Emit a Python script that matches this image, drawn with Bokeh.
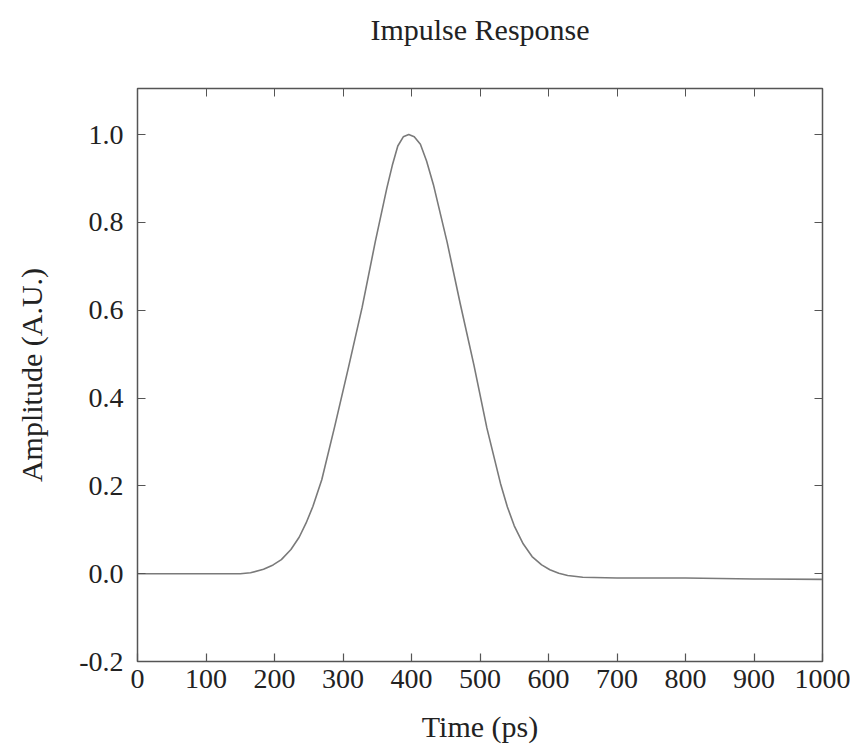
from bokeh.plotting import figure
from bokeh.models import LinearAxis, FixedTicker, NumeralTickFormatter, CustomJSTickFormatter, Range1d
from bokeh.embed import file_html
from bokeh.resources import INLINE

# Data
time_ps = [0, 50, 100, 150, 165, 184, 198, 210, 224, 236, 246, 256, 269, 288, 308, 328, 347, 364,
           372, 380, 388, 396, 404, 413, 422, 432, 452, 471, 491, 510, 530, 540, 550, 563, 576,
           590, 602, 615, 628, 650, 700, 800, 900, 1000]
amplitude = [0.0, 0.0, 0.0, 0.0, 0.002, 0.01, 0.02, 0.032, 0.055, 0.083, 0.115, 0.153, 0.214, 0.336,
             0.47, 0.607, 0.755, 0.878, 0.93, 0.974, 0.995, 1.0, 0.995, 0.978, 0.94, 0.886,
             0.755, 0.616, 0.476, 0.332, 0.205, 0.152, 0.109, 0.068, 0.039, 0.02, 0.009, 0.001,
             -0.004, -0.008, -0.01, -0.01, -0.012, -0.013]
x_ticks = [0, 100, 200, 300, 400, 500, 600, 700, 800, 900, 1000]
y_ticks = [-0.2, 0.0, 0.2, 0.4, 0.6, 0.8, 1.0]
title_text = "Impulse Response"

FONT = "Liberation Serif"
TXT = "#222222"
AX = "#555555"

p = figure(width=850, height=745, output_backend="svg", toolbar_location=None,
           x_range=Range1d(0, 1000), y_range=Range1d(-0.2, 1.105),
           x_axis_label="Time (ps)", y_axis_label="Amplitude (A.U.)",
           min_border_left=137, min_border_right=28, min_border_top=88, min_border_bottom=83)

p.grid.visible = False
p.outline_line_color = AX
p.outline_line_width = 1.5
p.background_fill_color = "white"
p.border_fill_color = "white"

for ax in p.xaxis + p.yaxis:
    ax.axis_label_text_font = FONT
    ax.axis_label_text_font_size = "30px"
    ax.axis_label_text_font_style = "normal"
    ax.axis_label_text_color = TXT
    ax.major_label_text_font = FONT
    ax.major_label_text_font_size = "28px"
    ax.major_label_text_color = TXT
    ax.major_tick_in = 8
    ax.major_tick_out = 0
    ax.minor_tick_in = 0
    ax.minor_tick_out = 0
    ax.axis_line_color = AX
    ax.major_tick_line_color = AX
    ax.major_tick_line_width = 1.2

p.xaxis.ticker = FixedTicker(ticks=x_ticks)
p.yaxis.ticker = FixedTicker(ticks=y_ticks)
p.yaxis.formatter = NumeralTickFormatter(format="0.0")
p.xaxis.major_label_standoff = 8
p.xaxis.axis_label_standoff = 19
p.yaxis.major_label_standoff = 14
p.yaxis.axis_label_standoff = 28

blank = CustomJSTickFormatter(code="return '';")
top = LinearAxis(ticker=FixedTicker(ticks=x_ticks), formatter=blank, major_tick_in=8,
                 major_tick_out=0, minor_tick_in=0, minor_tick_out=0, major_label_standoff=0,
                 axis_line_color=AX, major_tick_line_color=AX, major_label_text_font_size="1px",
                 axis_label=title_text, axis_label_text_font=FONT, axis_label_text_font_size="30px",
                 axis_label_text_font_style="normal", axis_label_text_color=TXT,
                 axis_label_standoff=43)
right = LinearAxis(ticker=FixedTicker(ticks=y_ticks), formatter=blank, major_tick_in=8,
                   major_tick_out=0, minor_tick_in=0, minor_tick_out=0, major_label_standoff=0,
                   axis_line_color=AX, major_tick_line_color=AX, major_label_text_font_size="1px")
p.add_layout(top, "above")
p.add_layout(right, "right")

p.line(time_ps, amplitude, line_color="#7a7a7a", line_width=1.6)

open("out.html", "w").write(file_html(p, INLINE))
